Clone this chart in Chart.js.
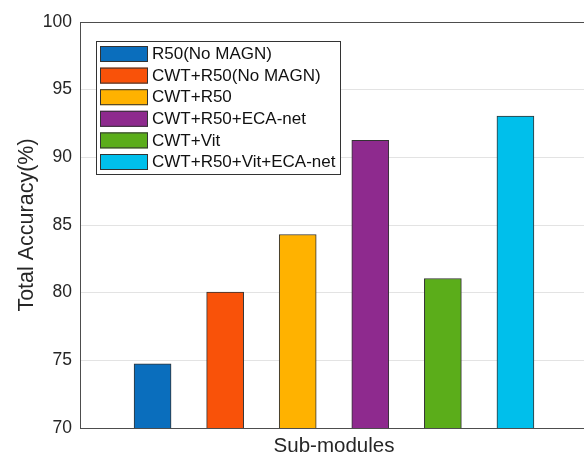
<!DOCTYPE html>
<html>
<head>
<meta charset="utf-8">
<script src="https://cdn.jsdelivr.net/npm/chart.js@4/dist/chart.umd.min.js"></script>
<style>
	html, body { margin: 0; padding: 0; background: #fff; overflow: hidden; }
	#wrap { width: 600px; height: 457px; }
</style>
</head>
<body>
<div id="wrap"><canvas id="acc-graph" width="600" height="457"></canvas></div>
<script>
const modules = ["R50(No MAGN)", "CWT+R50(No MAGN)", "CWT+R50", "CWT+R50+ECA-net", "CWT+Vit", "CWT+R50+Vit+ECA-net"];
const positions = [1, 2, 3, 4, 5, 6];
const accuracy = [74.75, 80.05, 84.3, 91.25, 81.05, 93.05];
const colours = ["#0a6ebd", "#f95209", "#ffb200", "#8e2a8e", "#5bad1a", "#00bfeb"];
const yTicks = [70, 75, 80, 85, 90, 95, 100];

const textColor = "#262626";
const axisColor = "#4d4d4d";
const fontFamily = "'Liberation Sans', Arial, sans-serif";

// legend drawn inside the axes, matlab style
const insideLegend = {
	id: "insideLegend",
	afterDraw(chart) {
		const ctx = chart.ctx;
		const area = chart.chartArea;
		// top border of the axes box
		ctx.save();
		ctx.strokeStyle = axisColor;
		ctx.lineWidth = 1;
		ctx.beginPath();
		ctx.moveTo(area.left, area.top + 0.5);
		ctx.lineTo(area.right, area.top + 0.5);
		ctx.stroke();

		const x0 = 96.5, y0 = 41.5, w = 244, h = 133;
		ctx.fillStyle = "#fff";
		ctx.fillRect(x0, y0, w, h);
		ctx.strokeStyle = "#333";
		ctx.strokeRect(x0, y0, w, h);
		ctx.font = "17px " + fontFamily;
		ctx.textBaseline = "middle";
		for (let i = 0; i < modules.length; i++) {
			const y = 46 + i * 21.6;
			ctx.fillStyle = colours[i];
			ctx.fillRect(100, y, 48, 16);
			ctx.strokeStyle = "#333";
			ctx.strokeRect(100.5, y + 0.5, 47, 15);
			ctx.fillStyle = "#111";
			ctx.fillText(modules[i], 152, y + 8.5);
		}
		ctx.restore();
	}
};

const ctx = document.getElementById("acc-graph");
new Chart(ctx, {
	type: "bar",
	data: {
		datasets: [
			{
				label: "Total Accuracy",
				data: positions.map((p, i) => ({ x: p, y: accuracy[i] })),
				backgroundColor: colours,
				borderColor: "#333",
				borderWidth: 1,
				borderSkipped: false,
				barThickness: 37
			}
		]
	},
	options: {
		responsive: false,
		animation: false,
		layout: { padding: { top: 22, right: 12, left: 0, bottom: 0 } },
		plugins: { legend: { display: false }, tooltip: { enabled: false } },
		scales: {
			x: {
				type: "linear",
				min: 0,
				max: 7,
				offset: false,
				ticks: { display: false },
				grid: { display: false, drawTicks: false, offset: false },
				border: { color: axisColor, width: 1 },
				title: {
					display: true,
					text: "Sub-modules",
					color: textColor,
					font: { family: fontFamily, size: 20.5, lineHeight: 1 },
					padding: { top: 0, bottom: 0 }
				},
				afterFit: s => { s.height = 29; }
			},
			y: {
				min: 70,
				max: 100,
				afterBuildTicks: s => { s.ticks = yTicks.map(v => ({ value: v })); },
				ticks: {
					color: textColor,
					padding: 8,
					font: { family: fontFamily, size: 17.5 }
				},
				grid: { color: "#e3e3e3", drawTicks: false },
				border: { color: axisColor, width: 1 },
				title: {
					display: true,
					text: "Total Accuracy(%)",
					color: textColor,
					font: { family: fontFamily, size: 21.5, lineHeight: 1.2 },
					padding: { top: 14, bottom: 0 }
				},
				afterFit: s => { s.width = 80; }
			}
		}
	},
	plugins: [insideLegend]
});
</script>
</body>
</html>
